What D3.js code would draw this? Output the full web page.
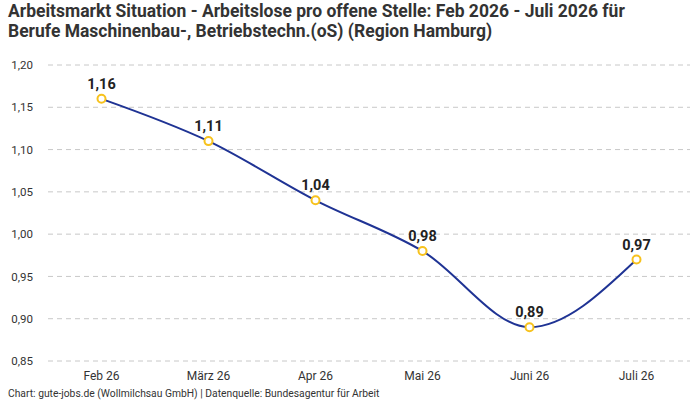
<!DOCTYPE html>
<html><head><meta charset="utf-8">
<script src="https://cdn.jsdelivr.net/npm/d3@7"></script>
<style>
body{margin:0;background:#fff;}
svg{display:block;}
</style></head>
<body>
<svg id="c" width="700" height="400"></svg>
<script>
const categories = ["Feb 26","März 26","Apr 26","Mai 26","Juni 26","Juli 26"];
const values = [1.16,1.11,1.04,0.98,0.89,0.97];
const yTicks = [0.85,0.90,0.95,1.00,1.05,1.10,1.15,1.20];
const titleLines = ["Arbeitsmarkt Situation - Arbeitslose pro offene Stelle: Feb 2026 - Juli 2026 für","Berufe Maschinenbau-, Betriebstechn.(oS) (Region Hamburg)"];
const footer = "Chart: gute-jobs.de (Wollmilchsau GmbH) | Datenquelle: Bundesagentur für Arbeit";

const font = "'Roboto','Noto Sans',sans-serif";
const svg = d3.select("#c");
const fmt = v => d3.format(".2f")(v).replace(".", ",");

const x = d3.scaleBand().domain(categories).range([48, 690]).padding(0);
const y = d3.scaleLinear().domain([0.85, 1.20]).range([361, 65]);

svg.selectAll("text.title").data(titleLines).join("text")
  .attr("x", 8).attr("y", (d,i) => 17 + i*20)
  .attr("font-family", font).attr("font-weight", "bold").attr("font-size", 17.5)
  .attr("fill", "#333").text(d => d);

const grid = svg.append("g");
grid.selectAll("line").data(yTicks).join("line")
  .attr("x1", 48).attr("x2", 690)
  .attr("y1", d => y(d)).attr("y2", d => y(d))
  .attr("stroke", "#c8c8c8").attr("stroke-dasharray", "5,4").attr("stroke-width", 1);

const yAxis = svg.append("g").attr("transform", "translate(38,0)")
  .call(d3.axisLeft(y).tickValues(yTicks).tickFormat(fmt).tickSize(0).tickPadding(5));
yAxis.select(".domain").remove();
yAxis.selectAll("text").attr("font-family", font).attr("font-size", 11.5).attr("fill", "#333");

const xAxis = svg.append("g").attr("transform", "translate(0,369)")
  .call(d3.axisBottom(x).tickSize(0).tickPadding(2));
xAxis.select(".domain").remove();
xAxis.selectAll("text").attr("font-family", font).attr("font-size", 12).attr("fill", "#333");

const cx = d => x(d) + x.bandwidth()/2;
const line = d3.line().x((d,i) => cx(categories[i])).y(d => y(d)).curve(d3.curveMonotoneX);
svg.append("path").datum(values).attr("d", line)
  .attr("fill", "none").attr("stroke", "#1f3394").attr("stroke-width", 2);

svg.selectAll("circle.pt").data(values).join("circle")
  .attr("cx", (d,i) => cx(categories[i])).attr("cy", d => y(d)).attr("r", 4)
  .attr("fill", "#fff").attr("stroke", "#f7c21d").attr("stroke-width", 2);

svg.selectAll("text.lbl").data(values).join("text")
  .attr("x", (d,i) => cx(categories[i])).attr("y", d => y(d) - 10)
  .attr("text-anchor", "middle")
  .attr("font-family", font).attr("font-weight", "bold").attr("font-size", 14.5)
  .attr("fill", "#222").text(d => fmt(d));

svg.append("text").attr("x", 8).attr("y", 397)
  .attr("font-family", font).attr("font-size", 10.3).attr("fill", "#333").text(footer);
</script>
</body></html>
